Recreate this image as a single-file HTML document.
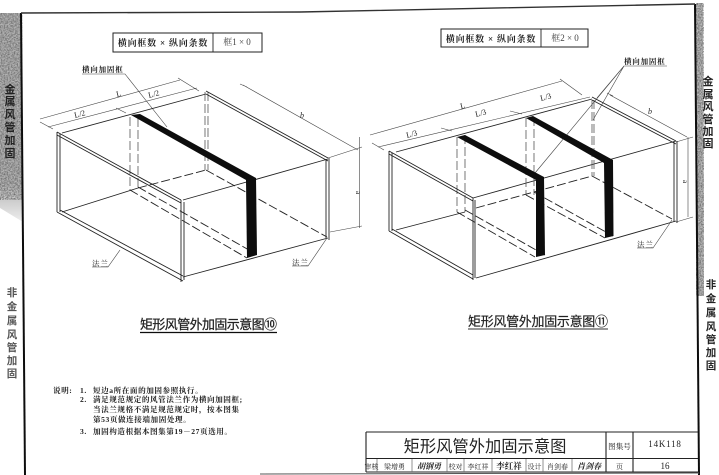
<!DOCTYPE html>
<html lang="zh"><head><meta charset="utf-8">
<style>
html,body{margin:0;padding:0;background:#fff;width:719px;height:475px;overflow:hidden}
svg{display:block}
text{font-family:"Liberation Serif","Noto Serif CJK SC",serif;fill:#222}
.h{font-family:"Liberation Sans","Noto Sans CJK SC",sans-serif}
.s{fill:none;stroke:#222;stroke-width:.9}
.t{fill:none;stroke:#444;stroke-width:.6}
.g{fill:none;stroke:#666;stroke-width:.7}
.d{fill:none;stroke:#222;stroke-width:.9;stroke-dasharray:9 3}
.dg{fill:none;stroke:#555;stroke-width:.8;stroke-dasharray:9 3}
</style></head><body>
<svg width="719" height="475" viewBox="0 0 719 475" xmlns="http://www.w3.org/2000/svg">
<defs>
<filter id="n" x="0" y="0" width="100%" height="100%">
<feTurbulence type="fractalNoise" baseFrequency=".7" numOctaves="2" seed="4"/>
<feColorMatrix values="0 0 0 0 .15  0 0 0 0 .15  0 0 0 0 .15  2.2 0 0 0 -.72"/>
</filter>
<filter id="b" x="-5%" y="-5%" width="110%" height="110%"><feGaussianBlur stdDeviation=".35"/></filter>
<linearGradient id="fade" x1="0" y1="0" x2="0" y2="1"><stop offset=".82" stop-color="#b4b4b4"/><stop offset="1" stop-color="#eee"/></linearGradient>
</defs>

<!-- scanned edges -->
<polygon points="0,13 21,13 23,222 0,208" fill="url(#fade)"/>
<polygon points="0,13 21,13 22.5,200 0,190" filter="url(#n)"/>
<polygon points="696,3 703,3 704,296 697,296" fill="#bbb"/>
<rect x="696" y="3" width="8" height="293" filter="url(#n)"/>

<g filter="url(#b)">
<!-- sheet frame -->
<path d="M21,13 L25,475" fill="none" stroke="#111" stroke-width="2"/>
<path d="M695,4 L699,475" fill="none" stroke="#111" stroke-width="2"/>
<path d="M21,13 L300,12 L695,4" fill="none" stroke="#333" stroke-width="1.4"/>
<path d="M260,474 L699,473" fill="none" stroke="#555" stroke-width="1"/>

<!-- side labels -->
<g font-size="11" text-anchor="middle" font-weight="bold" class="h">
<text class="h" x="10" y="93">金</text><text class="h" x="10" y="105">属</text><text class="h" x="10" y="118">风</text><text class="h" x="10" y="131">管</text><text class="h" x="10" y="144">加</text><text class="h" x="10" y="157">固</text>
<text class="h" x="708" y="85">金</text><text class="h" x="708" y="98">属</text><text class="h" x="708" y="110">风</text><text class="h" x="708" y="123">管</text><text class="h" x="708" y="135">加</text><text class="h" x="708" y="147">固</text>
</g>
<g font-size="10.5" text-anchor="middle" font-weight="bold">
<text class="h" x="12" y="296" style="fill:#555">非</text><text class="h" x="12" y="310" style="fill:#555">金</text><text class="h" x="12" y="324" style="fill:#555">属</text><text class="h" x="12" y="338" style="fill:#555">风</text><text class="h" x="12" y="351" style="fill:#555">管</text><text class="h" x="12" y="364" style="fill:#555">加</text><text class="h" x="12" y="377" style="fill:#555">固</text>
<text class="h" x="711" y="288">非</text><text class="h" x="711" y="302">金</text><text class="h" x="711" y="316">属</text><text class="h" x="711" y="330">风</text><text class="h" x="711" y="343">管</text><text class="h" x="711" y="356">加</text><text class="h" x="711" y="369">固</text>
</g>

<!-- LEFT DIAGRAM -->
<rect x="113" y="33" width="149" height="19" fill="none" stroke="#222" stroke-width="1"/>
<path d="M213,33V52" class="s"/>
<text x="163" y="46" font-size="9" text-anchor="middle" letter-spacing=".8" font-weight="bold">横向框数 × 纵向条数</text>
<text x="237" y="45" font-size="9" text-anchor="middle" style="fill:#444">框1 × 0</text>

<text x="82" y="72" font-size="7.5" letter-spacing=".8" font-weight="bold">横向加固框</text>
<path d="M82,74H125L167,127" class="t"/>

<!-- dimensions -->
<path d="M40,119L180,80M178,78L199,91" class="t"/>
<path d="M48,127L197,88M40,122L53,129M116,108L126,113" class="t"/>
<text x="117" y="97" font-size="8" transform="rotate(-15 117 97)">L</text>
<text x="75" y="118" font-size="8" transform="rotate(-15 75 118)">L/2</text>
<text x="149" y="98" font-size="8" transform="rotate(-15 149 98)">L/2</text>
<path d="M243,85L358,150M240,84L247,87" class="t"/>
<text x="300" y="118" font-size="8" font-style="italic">b</text>
<path d="M359.5,137V228M328,158L362,147M330,232L362,226" class="t"/>
<text x="356" y="191" font-size="7" transform="rotate(90 356 191)">a</text>

<!-- duct left -->
<path d="M62,133L206,94M138,188L62,212M183,277L328,238M183,200L328,159" class="s"/>
<path d="M130,117V190M138,118V188M205,92V170M208,92V170" class="dg"/>
<path d="M138,188L206,170M206,170L327,237M130,190L247,258M138,187L256,254" class="d"/>
<path d="M57,132L181,200M57,135L181,203M57,132V212M60,134V212M57,212L183,281M60,210L183,276M181,200V282M184,202V280" class="s"/>
<path d="M206,91L328,158M206,94L328,161M326,159V238M329,158V240" class="s"/>
<polygon points="131,115 140,114 256,178 257,255 247,258 246,180" fill="#0a0a0a"/>

<text x="92" y="266" font-size="7.5" letter-spacing="1">法兰</text>
<path d="M92,267H108L120,250" class="t"/>
<text x="292" y="265" font-size="7.5" letter-spacing="1">法兰</text>
<path d="M292,266H308L327,238" class="t"/>

<text class="h" x="140" y="329" font-size="13" textLength="137" stroke="#222" stroke-width=".25">矩形风管外加固示意图⑩</text>
<path d="M140,332.5H277" stroke="#111" stroke-width="1.2"/>

<!-- RIGHT DIAGRAM -->
<rect x="441" y="29" width="147" height="18" fill="none" stroke="#222" stroke-width="1"/>
<path d="M541,29V47" class="s"/>
<text x="491" y="42" font-size="9" text-anchor="middle" letter-spacing=".8" font-weight="bold">横向框数 × 纵向条数</text>
<text x="565" y="41" font-size="9" text-anchor="middle" style="fill:#444">框2 × 0</text>

<text x="624" y="64" font-size="7.5" letter-spacing=".8" font-weight="bold">横向加固框</text>
<path d="M667,66H624L535,173M624,66L593,120M624,66L597,98" class="t"/>

<path d="M370,135L562,81M560,79L582,95" class="t"/>
<path d="M378,147L590,97M372,143L384,150M441,128L452,131M510,111L522,114" class="t"/>
<text x="461" y="109" font-size="8" transform="rotate(-15 461 109)">L</text>
<text x="407" y="138" font-size="8" transform="rotate(-15 407 138)">L/3</text>
<text x="476" y="117" font-size="8" transform="rotate(-15 476 117)">L/3</text>
<text x="541" y="101" font-size="8" transform="rotate(-15 541 101)">L/3</text>
<path d="M610,95L687,137M607,93L613,96" class="t"/>
<text x="648" y="114" font-size="8" font-style="italic">b</text>
<path d="M688,137V217M676,142L693,137M676,222L693,217" class="t"/>
<text x="683" y="180" font-size="7" transform="rotate(90 683 180)">a</text>

<path d="M396,152L592,99M473,198L676,141M476,278L676,221" class="s"/>
<path d="M457,137V212M465,135V212M526,118V195M534,117V195M592,100V176M594,100V176" class="dg"/>
<path d="M396,230L465,212" class="s"/>
<path d="M476,208L592,176M592,176L672,219M457,212L535,257M465,210L545,255M526,195L605,238M534,192L613,236" class="d"/>
<path d="M389,151L473,198M389,154L473,201M389,151V231M392,153V231M389,231L473,279M392,229L473,275M473,198V280M475,200V278" class="s"/>
<path d="M592,97L676,141M592,100L676,144M674,142V222M677,141V223" class="s"/>
<polygon points="457,137 465,135 544,177 545,255 536,257 536,180" fill="#0a0a0a"/>
<polygon points="526,118 533,116 613,160 613.5,236 605,238 604,163" fill="#0a0a0a"/>

<text x="637" y="247" font-size="7.5" letter-spacing="1">法兰</text>
<path d="M637,248H653L672,220" class="t"/>

<text class="h" x="468" y="326" font-size="13" textLength="140" stroke="#222" stroke-width=".2">矩形风管外加固示意图⑪</text>
<path d="M468,329H608" stroke="#333" stroke-width=".9"/>

<!-- NOTES -->
<g font-size="7.6" letter-spacing=".55" font-weight="bold">
<text x="53" y="393">说明:</text>
<text x="80" y="393">1.</text><text x="93" y="393">短边a所在面的加固参照执行。</text>
<text x="80" y="402">2.</text><text x="93" y="402">满足规范规定的风管法兰作为横向加固框;</text>
<text x="93" y="412">当法兰规格不满足规范规定时，按本图集</text>
<text x="93" y="422">第53页做连接端加固处理。</text>
<text x="80" y="434">3.</text><text x="93" y="434">加固构造根据本图集第19－27页选用。</text>
</g>

<!-- TITLE BLOCK -->
<path d="M366,432H698M366,458.5H698M366,472H698M366,432V472M606,432V472M633,432V472" fill="none" stroke="#222" stroke-width="1.1"/>
<path d="M377,459V472M412,459V472M447,459V472M464,459V472M492,459V472M526,459V472M543,459V472M572,459V472" class="g"/>
<text class="h" x="485" y="452" font-size="16.3" text-anchor="middle">矩形风管外加固示意图</text>
<text x="619.5" y="449" font-size="7.6" text-anchor="middle">图集号</text>
<text x="665" y="447" font-size="9" text-anchor="middle" letter-spacing=".8">14K118</text>
<g font-size="7" text-anchor="middle">
<text x="371.5" y="469">审核</text>
<text x="394.5" y="469">梁增勇</text>
<text x="429" y="469" font-style="italic" font-weight="bold" font-size="8">胡钢勇</text>
<text x="455.5" y="469">校对</text>
<text x="478" y="469">李红祥</text>
<text x="509" y="469" font-weight="bold" font-size="8.5">李红祥</text>
<text x="534.5" y="469">设计</text>
<text x="557.5" y="469">肖剑春</text>
<text x="589" y="469" font-weight="bold" font-size="8" font-style="italic">肖剑春</text>
<text x="619.5" y="469">页</text>
<text x="665" y="469" font-size="9">16</text>
</g>
</g>
</svg>
</body></html>
